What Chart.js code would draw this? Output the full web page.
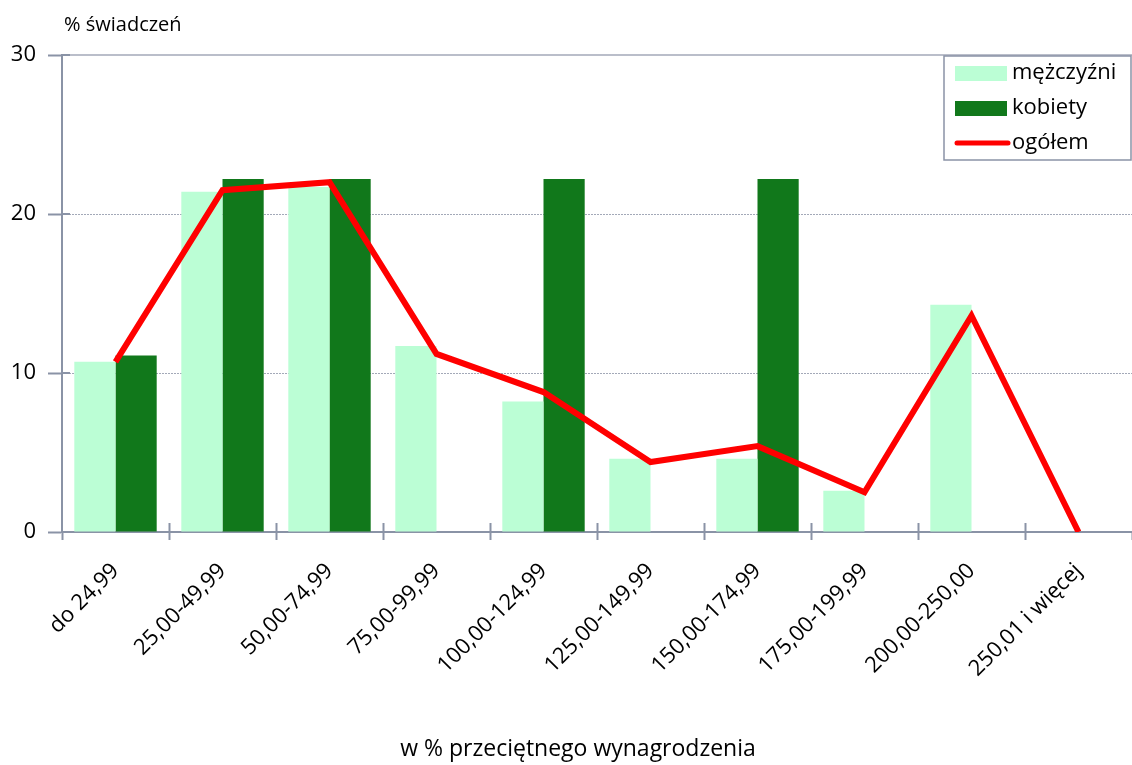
<!DOCTYPE html>
<html lang="pl">
<head>
<meta charset="utf-8">
<title>Struktura świadczeń w % przeciętnego wynagrodzenia</title>
<script src="https://cdn.jsdelivr.net/npm/chart.js@4.4.1/dist/chart.umd.min.js"></script>
<style>
    body { margin: 0; background: #fff; }
    #wykres { display: block; }
</style>
</head>
<body>
<canvas id="wykres" width="1132" height="765"></canvas>
<script>
// dane
const kategorie = ['do 24,99', '25,00-49,99', '50,00-74,99', '75,00-99,99', '100,00-124,99',
    '125,00-149,99', '150,00-174,99', '175,00-199,99', '200,00-250,00', '250,01 i więcej'];
const mezczyzni = [10.7, 21.4, 21.7, 11.7, 8.2, 4.6, 4.6, 2.6, 14.3, 0];
const kobiety = [11.1, 22.2, 22.2, 0, 22.2, 0, 22.2, 0, 0, 0];
const ogolem = [10.7, 21.5, 22.0, 11.2, 8.8, 4.4, 5.4, 2.5, 13.6, 0];
const osY = { min: 0, max: 30, step: 10 };

const FONT = "'Open Sans', sans-serif";
const AXIS = '#8a93a6';
const GRID = '#a3a9b8';

// legenda, tytuły osi i krzyżowe znaczniki
const dodatki = {
    id: 'dodatki',
    afterDraw(chart) {
        const { ctx, chartArea: a, scales } = chart;
        ctx.save();

        // górna linia obszaru wykresu
        ctx.strokeStyle = GRID;
        ctx.lineWidth = 1.5;
        ctx.beginPath();
        ctx.moveTo(a.left, a.top);
        ctx.lineTo(a.right, a.top);
        ctx.stroke();

        // znaczniki wchodzące do środka
        ctx.strokeStyle = AXIS;
        ctx.lineWidth = 2;
        const x = scales.x;
        for (let i = 1; i < kategorie.length; i++) {
            const px = Math.round((x.getPixelForTick(i - 1) + x.getPixelForTick(i)) / 2) + 0.5;
            ctx.beginPath();
            ctx.moveTo(px, a.bottom);
            ctx.lineTo(px, a.bottom - 9);
            ctx.stroke();
        }
        const y = scales.y;
        for (let v = osY.min + osY.step; v <= osY.max; v += osY.step) {
            const py = y.getPixelForValue(v);
            ctx.beginPath();
            ctx.moveTo(a.left, py);
            ctx.lineTo(a.left + 8, py);
            ctx.stroke();
        }

        // tytuły
        ctx.fillStyle = '#000';
        ctx.font = '20px ' + FONT;
        ctx.textAlign = 'left';
        ctx.textBaseline = 'middle';
        ctx.fillText('% świadczeń', 64, 25);
        ctx.font = '23px ' + FONT;
        ctx.textAlign = 'center';
        ctx.fillText('w % przeciętnego wynagrodzenia', 578, 749);

        // legenda
        const lx = 944, ly = 56, lw = a.right - lx - 1, lh = 104;
        ctx.fillStyle = '#fff';
        ctx.fillRect(lx, ly, lw, lh);
        ctx.strokeStyle = AXIS;
        ctx.lineWidth = 1.5;
        ctx.strokeRect(lx, ly, lw, lh);
        ctx.font = '22px ' + FONT;
        ctx.textAlign = 'left';
        chart.data.datasets.forEach((ds, i) => {
            const cy = ly + 17 + i * 35;
            if (ds.type === 'line') {
                ctx.strokeStyle = ds.borderColor;
                ctx.lineWidth = 5;
                ctx.lineCap = 'round';
                ctx.beginPath();
                ctx.moveTo(957, cy);
                ctx.lineTo(1008, cy);
                ctx.stroke();
            } else {
                ctx.fillStyle = ds.backgroundColor;
                ctx.fillRect(955, cy - 7, 52, 15);
            }
            ctx.fillStyle = '#000';
            ctx.fillText(ds.label, 1012, cy);
        });
        ctx.restore();
    }
};

new Chart(document.getElementById('wykres'), {
    type: 'bar',
    data: {
        labels: kategorie,
        datasets: [
            {
                label: 'mężczyźni',
                data: mezczyzni,
                backgroundColor: '#bbfed5',
                order: 2
            },
            {
                label: 'kobiety',
                data: kobiety,
                backgroundColor: '#11781b',
                order: 2
            },
            {
                type: 'line',
                label: 'ogółem',
                data: ogolem,
                borderColor: '#ff0000',
                borderWidth: 6,
                pointRadius: 0,
                tension: 0,
                order: 1
            }
        ]
    },
    options: {
        responsive: false,
        animation: false,
        layout: { padding: { top: 55, right: 0, left: 0, bottom: 0 } },
        datasets: {
            bar: { categoryPercentage: 0.77, barPercentage: 1.0 }
        },
        plugins: {
            legend: { display: false },
            tooltip: { enabled: false }
        },
        scales: {
            x: {
                afterFit(scale) { scale.height = 233; },
                grid: {
                    display: true,
                    drawOnChartArea: false,
                    tickLength: 8,
                    tickColor: AXIS,
                    tickWidth: 2
                },
                border: { display: true, color: AXIS, width: 2 },
                ticks: {
                    color: '#000',
                    font: { family: FONT, size: 22 },
                    minRotation: 45,
                    maxRotation: 45,
                    padding: 18,
                    labelOffset: 0,
                    autoSkip: false
                }
            },
            y: {
                min: osY.min,
                max: osY.max,
                afterFit(scale) { scale.width = 62; },
                ticks: {
                    stepSize: osY.step,
                    color: '#000',
                    font: { family: FONT, size: 22 },
                    padding: 12
                },
                grid: {
                    color: ctx => (ctx.tick && ctx.tick.value > osY.min && ctx.tick.value < osY.max) ? GRID : 'rgba(0,0,0,0)',
                    tickColor: AXIS,
                    tickWidth: 2,
                    tickLength: 14
                },
                border: { display: true, color: AXIS, width: 2, dash: [2, 1] }
            }
        }
    },
    plugins: [dodatki]
});
</script>
</body>
</html>
